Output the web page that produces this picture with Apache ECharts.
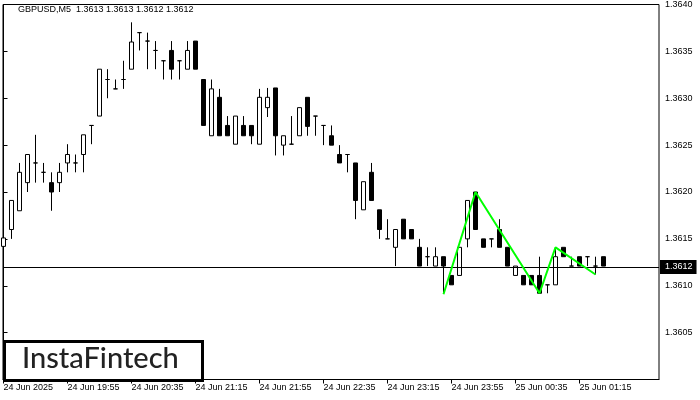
<!DOCTYPE html>
<html>
<head>
<meta charset="utf-8">
<script src="https://cdn.jsdelivr.net/npm/echarts@6/dist/echarts.min.js"></script>
<style>html,body{margin:0;padding:0;background:#fff;}#chart{width:700px;height:400px;}</style>
</head>
<body>
<div id="chart"></div>
<script>
// ---- data (5-minute GBPUSD bars, 24 Jun 19:15 .. 25 Jun 01:30) ----
const opens = [1.36142,1.36160,1.36180,1.36210,1.36231,1.36221,1.36210,1.36210,1.36231,1.36231,
 1.36240,1.36271,1.36281,1.36320,1.36310,1.36320,1.36331,1.36370,1.36361,1.36351,
 1.36340,1.36351,1.36340,1.36331,1.36361,1.36320,1.36260,1.36301,1.36271,1.36251,
 1.36271,1.36271,1.36251,1.36290,1.36311,1.36250,1.36251,1.36260,1.36301,1.36281,
 1.36271,1.36260,1.36240,1.36240,1.36231,1.36181,1.36221,1.36181,1.36150,1.36141,
 1.36171,1.36160,1.36141,1.36131,1.36121,1.36131,1.36111,1.36111,1.36150,1.36200,
 1.36150,1.36150,1.36160,1.36141,1.36111,1.36111,1.36111,1.36111,1.36101,1.36101,
 1.36141,1.36121,1.36131,1.36131,1.36121,1.36131];
const closes = [1.36151,1.36191,1.36221,1.36240,1.36231,1.36221,1.36200,1.36221,1.36240,1.36231,
 1.36261,1.36271,1.36331,1.36320,1.36310,1.36320,1.36360,1.36370,1.36361,1.36351,
 1.36340,1.36331,1.36340,1.36351,1.36331,1.36271,1.36310,1.36260,1.36260,1.36281,
 1.36260,1.36260,1.36301,1.36301,1.36260,1.36260,1.36251,1.36290,1.36270,1.36281,
 1.36271,1.36250,1.36231,1.36240,1.36191,1.36211,1.36191,1.36160,1.36150,1.36160,
 1.36150,1.36150,1.36121,1.36131,1.36131,1.36121,1.36101,1.36141,1.36191,1.36160,
 1.36141,1.36150,1.36141,1.36121,1.36121,1.36101,1.36101,1.36092,1.36101,1.36131,
 1.36131,1.36121,1.36121,1.36131,1.36121,1.36121];
const lows = [1.36131,1.36150,1.36180,1.36200,1.36210,1.36210,1.36180,1.36200,1.36221,1.36221,
 1.36221,1.36251,1.36281,1.36300,1.36310,1.36310,1.36331,1.36351,1.36331,1.36331,
 1.36320,1.36320,1.36320,1.36331,1.36331,1.36271,1.36260,1.36260,1.36260,1.36251,
 1.36260,1.36251,1.36251,1.36280,1.36239,1.36239,1.36251,1.36260,1.36260,1.36260,
 1.36250,1.36250,1.36231,1.36221,1.36171,1.36181,1.36191,1.36150,1.36150,1.36121,
 1.36150,1.36150,1.36121,1.36121,1.36121,1.36092,1.36101,1.36111,1.36141,1.36160,
 1.36141,1.36141,1.36141,1.36121,1.36111,1.36101,1.36101,1.36092,1.36092,1.36101,
 1.36131,1.36121,1.36121,1.36121,1.36112,1.36121];
const highs = [1.36151,1.36191,1.36231,1.36240,1.36261,1.36231,1.36221,1.36231,1.36251,1.36240,
 1.36261,1.36271,1.36331,1.36331,1.36320,1.36340,1.36381,1.36370,1.36370,1.36361,
 1.36340,1.36361,1.36340,1.36361,1.36361,1.36320,1.36320,1.36310,1.36281,1.36281,
 1.36281,1.36271,1.36310,1.36311,1.36311,1.36260,1.36281,1.36290,1.36301,1.36281,
 1.36271,1.36271,1.36250,1.36240,1.36231,1.36211,1.36231,1.36181,1.36171,1.36160,
 1.36171,1.36160,1.36150,1.36141,1.36141,1.36131,1.36111,1.36141,1.36191,1.36200,
 1.36150,1.36150,1.36171,1.36141,1.36121,1.36111,1.36111,1.36131,1.36101,1.36141,
 1.36141,1.36131,1.36131,1.36131,1.36131,1.36131];

// pattern (green zig-zag) : bar index and price
const patternIndex = [55, 59, 67, 69, 74];
const patternPrice = [1.36091, 1.36200, 1.36092, 1.36141, 1.36112];

// axis ticks
const timeTickIndex = [0, 8, 16, 24, 32, 40, 48, 56, 64, 72];
const timeTickLabels = ['24 Jun 2025', '24 Jun 19:55', '24 Jun 20:35', '24 Jun 21:15', '24 Jun 21:55',
  '24 Jun 22:35', '24 Jun 23:15', '24 Jun 23:55', '25 Jun 00:35', '25 Jun 01:15'];
const priceTicks = [1.3605, 1.3610, 1.3615, 1.3620, 1.3625, 1.3630, 1.3635, 1.3640];
const bidPrice = 1.3612;
const headerText = 'GBPUSD,M5  1.3613 1.3613 1.3612 1.3612';

// ---- build ----
const candleData = opens.map((o, i) => [i, o, closes[i], lows[i], highs[i]]);
const patternData = patternIndex.map((x, i) => [x, patternPrice[i]]);
const FONT = 'Liberation Sans';

const chart = echarts.init(document.getElementById('chart'), null, { renderer: 'canvas' });
chart.setOption({
  animation: false,
  backgroundColor: '#fff',
  title: {
    text: headerText, left: 18, top: 5, padding: 0,
    textStyle: { fontSize: 9, fontWeight: 'normal', color: '#000', fontFamily: FONT }
  },
  grid: { left: 3, right: 41, top: 3.5, height: 376, show: true, borderColor: '#000', borderWidth: 1, backgroundColor: 'transparent' },
  xAxis: {
    type: 'value', min: -0.0625, max: 81.9375,
    splitLine: { show: false },
    axisLine: { show: true, lineStyle: { color: '#000', width: 1 } },
    axisTick: { show: true, customValues: timeTickIndex, length: 4, lineStyle: { color: '#000' } },
    axisLabel: {
      customValues: timeTickIndex, align: 'left', margin: 4, fontSize: 9, fontFamily: FONT, color: '#000',
      formatter: v => timeTickLabels[timeTickIndex.indexOf(Math.round(v))] || ''
    }
  },
  yAxis: {
    type: 'value', position: 'right', min: 1.3600, max: 1.3640, scale: true,
    splitLine: { show: false },
    axisLine: { show: true, lineStyle: { color: '#000', width: 1 } },
    axisTick: { show: true, customValues: priceTicks, length: 4, lineStyle: { color: '#000' } },
    axisLabel: {
      customValues: priceTicks, margin: 6, fontSize: 9, fontFamily: FONT, color: '#000',
      formatter: v => v.toFixed(4)
    }
  },
  series: [
    {
      type: 'candlestick',
      data: candleData,
      encode: { x: 0, y: [1, 2, 3, 4] },
      barWidth: 4,
      itemStyle: {
        color: '#fff', color0: '#000',
        borderColor: '#000', borderColor0: '#000', borderColorDoji: '#000', borderWidth: 1
      }
    },
    {
      type: 'line',
      data: patternData,
      symbol: 'none',
      lineStyle: { color: '#00ff00', width: 2 },
      z: 5,
      markLine: {
        silent: true, symbol: ['none', 'none'], animation: false, precision: 5,
        lineStyle: { color: '#000', width: 1, type: 'solid' },
        label: {
          show: true, position: 'end', distance: 1,
          formatter: () => bidPrice.toFixed(4),
          backgroundColor: '#000', color: '#fff', fontSize: 9, fontFamily: FONT,
          padding: [3, 4, 2, 5]
        },
        emphasis: { disabled: true },
        data: [{ yAxis: bidPrice }]
      }
    }
  ],
  graphic: [
    {
      type: 'rect', left: 3, top: 340, z: 100,
      shape: { width: 198, height: 39 },
      style: { fill: '#fff', stroke: '#000', lineWidth: 3 }
    },
    {
      type: 'text', left: 22, top: 344, z: 101,
      style: { text: 'InstaFintech', font: '500 29px Lato', fill: '#222' }
    }
  ]
});
</script>
</body>
</html>
